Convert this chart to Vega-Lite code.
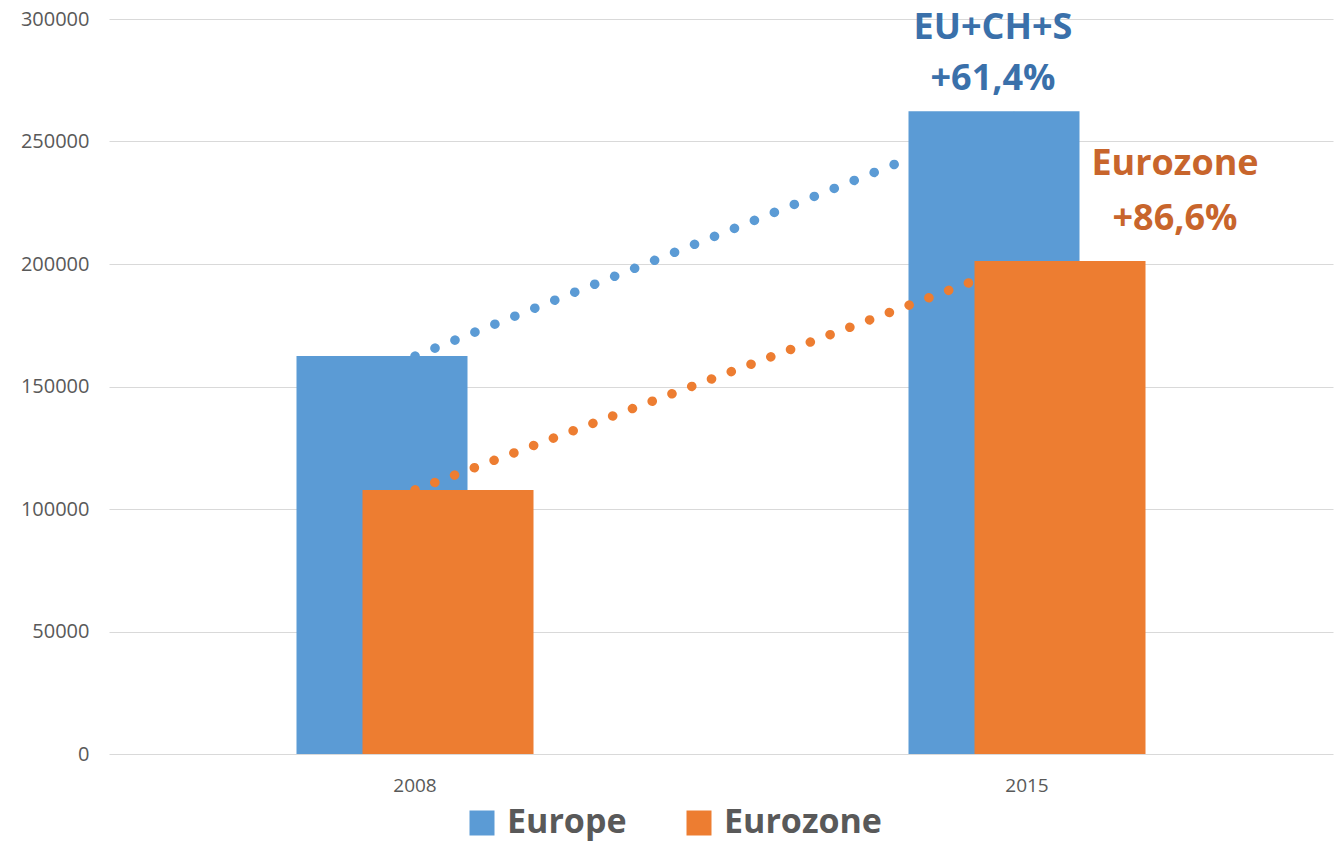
{
  "$schema": "https://vega.github.io/schema/vega-lite/v6.json",
  "width": 1224,
  "height": 735,
  "autosize": {"type": "none"},
  "padding": {"left": 109, "top": 19, "right": 4, "bottom": 89},
  "background": "white",
  "config": {"view": {"stroke": null}, "font": "Open Sans"},
  "datasets": {
    "bars": [
      {"year": "2008", "series": "Europe", "value": 162400},
      {"year": "2008", "series": "Eurozone", "value": 107800},
      {"year": "2015", "series": "Europe", "value": 262300},
      {"year": "2015", "series": "Eurozone", "value": 201200}
    ],
    "notes": [
      {"year": "2015", "series": "Europe", "label": "EU+CH+S", "value": 296500},
      {"year": "2015", "series": "Europe", "label": "+61,4%", "value": 275500},
      {"year": "2015", "series": "Eurozone", "label": "Eurozone", "value": 240800},
      {"year": "2015", "series": "Eurozone", "label": "+86,6%", "value": 218400}
    ]
  },
  "encoding": {
    "x": {
      "field": "year",
      "type": "ordinal",
      "scale": {"paddingInner": 0, "paddingOuter": 0},
      "axis": {
        "title": null,
        "domain": false,
        "ticks": false,
        "grid": false,
        "labelAngle": 0,
        "labelPadding": 22,
        "labelFontSize": 19,
        "labelColor": "#595959",
        "labelFont": "Open Sans"
      }
    },
    "y": {
      "field": "value",
      "type": "quantitative",
      "scale": {"domain": [0, 300000], "nice": false},
      "axis": {
        "title": null,
        "domain": false,
        "ticks": false,
        "grid": true,
        "gridColor": "#d9d9d9",
        "gridWidth": 1,
        "values": [0, 50000, 100000, 150000, 200000, 250000, 300000],
        "format": "d",
        "labelPadding": 20,
        "labelFontSize": 20,
        "labelColor": "#595959",
        "labelFont": "Open Sans"
      }
    }
  },
  "layer": [
    {
      "data": {"name": "bars"},
      "transform": [{"filter": "datum.series === 'Europe'"}],
      "mark": {"type": "line", "color": "#5B9BD5", "strokeWidth": 9.5, "strokeCap": "round", "strokeDash": [0.1, 21.4]},
      "encoding": {}
    },
    {
      "data": {"name": "bars"},
      "transform": [{"filter": "datum.series === 'Europe'"}],
      "mark": {"type": "bar", "width": 171, "xOffset": -33},
      "encoding": {
        "color": {
          "field": "series",
          "type": "nominal",
          "scale": {"domain": ["Europe", "Eurozone"], "range": ["#5B9BD5", "#ED7D31"]},
          "legend": {
            "orient": "none",
            "legendX": 356,
            "legendY": 787,
            "direction": "horizontal",
            "title": null,
            "symbolType": "square",
            "symbolSize": 625,
            "symbolStrokeWidth": 0,
            "labelFontSize": 34,
            "labelFontWeight": "bold",
            "labelColor": "#595959",
            "labelFont": "Open Sans",
            "labelOffset": 8,
            "labelLimit": 400,
            "columnPadding": 55
          }
        }
      }
    },
    {
      "data": {"name": "bars"},
      "transform": [{"filter": "datum.series === 'Eurozone'"}],
      "mark": {"type": "line", "color": "#ED7D31", "strokeWidth": 9.5, "strokeCap": "round", "strokeDash": [0.1, 21]},
      "encoding": {}
    },
    {
      "data": {"name": "bars"},
      "transform": [{"filter": "datum.series === 'Eurozone'"}],
      "mark": {"type": "bar", "width": 171, "xOffset": 33},
      "encoding": {
        "color": {"field": "series", "type": "nominal"}
      }
    },
    {
      "data": {"name": "notes"},
      "transform": [{"filter": "datum.series === 'Europe'"}],
      "mark": {"type": "text", "fontSize": 36, "fontWeight": "bold", "font": "Open Sans", "color": "#3A70AA", "align": "center", "baseline": "middle", "xOffset": -34},
      "encoding": {"text": {"field": "label"}}
    },
    {
      "data": {"name": "notes"},
      "transform": [{"filter": "datum.series === 'Eurozone'"}],
      "mark": {"type": "text", "fontSize": 36, "fontWeight": "bold", "font": "Open Sans", "color": "#C8652C", "align": "center", "baseline": "middle", "xOffset": 148},
      "encoding": {"text": {"field": "label"}}
    }
  ]
}
